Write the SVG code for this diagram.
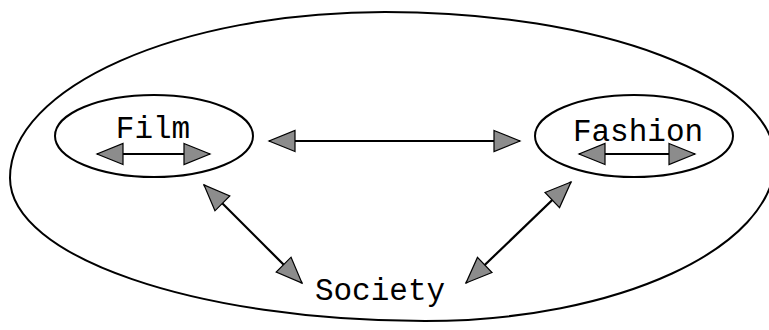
<svg xmlns="http://www.w3.org/2000/svg" width="769" height="330" viewBox="0 0 769 330">
  <style>
    .outline { fill: none; stroke: #000; stroke-width: 2; }
    .label { font-family: "Liberation Mono", "DejaVu Sans Mono", monospace; font-size: 31px; fill: #000; text-anchor: middle; }
    .conn { stroke: #000; stroke-width: 2.2; fill: none; marker-start: url(#head); marker-end: url(#head); }
    .conn-thin { stroke: #000; stroke-width: 1.8; fill: none; marker-start: url(#head); marker-end: url(#head); }
  </style>
  <defs>
    <marker id="head" markerUnits="userSpaceOnUse" viewBox="-2 -13 31 26" markerWidth="31" markerHeight="26" refX="26" refY="0" orient="auto-start-reverse">
      <path d="M0,-10.5 L26,0 L0,10.5 Z" fill="#8c8c8c" stroke="#000" stroke-width="1.2" stroke-linejoin="miter"/>
    </marker>
  </defs>
  <rect width="769" height="330" fill="#fff"/>

  <g id="outer">
    <path class="outline" d="M10,178 C10,87 179,12 385,12 C600,12 775,78 775,160 C775,248 617,321 425,321 C197,321 10,257 10,178 Z"/>
  </g>

  <g id="film">
    <ellipse class="outline" cx="154" cy="136" rx="99" ry="41"/>
    <text class="label" x="153" y="138">Film</text>
    <line class="conn-thin" x1="97" y1="154" x2="210" y2="154"/>
  </g>

  <g id="fashion">
    <ellipse class="outline" cx="634" cy="136" rx="99" ry="41"/>
    <text class="label" x="638" y="141">Fashion</text>
    <line class="conn-thin" x1="579" y1="154" x2="695" y2="154"/>
  </g>

  <g id="society">
    <text class="label" x="380" y="300">Society</text>
  </g>

  <g id="connectors">
    <line class="conn-thin" x1="269" y1="141" x2="520" y2="141"/>
    <line class="conn" x1="204" y1="185" x2="302" y2="283"/>
    <line class="conn" x1="571" y1="182" x2="466" y2="283"/>
  </g>
</svg>
